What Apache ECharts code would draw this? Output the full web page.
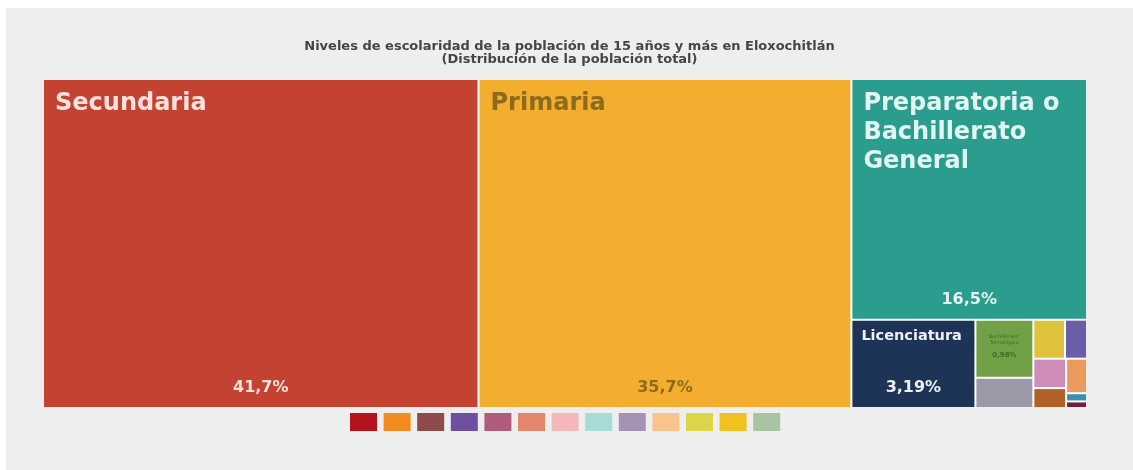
<!DOCTYPE html>
<html>
<head>
<meta charset="utf-8">
<script src="https://cdn.jsdelivr.net/npm/echarts@6/dist/echarts.min.js"></script>
<style>
  html, body { margin: 0; padding: 0; background: #ffffff; }
  #wrap { position: relative; width: 1133px; height: 470px; background: #ffffff; overflow: hidden; }
  #chart { position: absolute; left: 6px; top: 8px; width: 1127px; height: 462px; background: #eeeeee; }
</style>
</head>
<body>
<div id="wrap"><div id="chart"></div></div>
<script>
// ---- data ----
const titleLines = [
  'Niveles de escolaridad de la población de 15 años y más en Eloxochitlán',
  '(Distribución de la población total)'
];
const categories = [
  'Secundaria',
  'Primaria',
  'Preparatoria o Bachillerato General',
  'Licenciatura',
  'Bachillerato Tecnológico',
  'Estudios Técnicos o Comerciales con Secundaria Terminada',
  'Normal de Licenciatura',
  'Maestría',
  'Preescolar',
  'Estudios Técnicos o Comerciales con Preparatoria Terminada',
  'Estudios Técnicos o Comerciales con Primaria Terminada',
  'Especialidad',
  'Doctorado'
];
const shares = [41.7, 35.7, 16.5, 3.19, 0.98, 0.51, 0.36, 0.25, 0.28, 0.19, 0.21, 0.05, 0.04];
const cellColors = ['#c44232', '#f3ad2f', '#2a9d8f', '#1d3457', '#72a047', '#9b98a8', '#e0c33c',
                    '#6b5ea8', '#d08cb8', '#b2602a', '#e99a5c', '#3b8fae', '#6e1f3c'];
const legendColors = ['#b5121b', '#f28a20', '#8f4a4b', '#6f4fa0', '#b05b7c', '#e3876c', '#f5b7b8',
                      '#a5dcd8', '#a493b2', '#f8c38c', '#dcd54a', '#f1c21f', '#a9c4a2'];

// ---- styles ----
const FONT = '"DejaVu Sans", "Noto Sans", sans-serif';
const labelColors = ['#fde2dc', '#8d6b1c', '#e3f5f1', '#eef1f6', '#3f6b25'];
function fmtPct(v) { return String(v).replace('.', ',') + '%'; }

function nameLabel(i) {
  if (i <= 2) {
    return { show: true, position: [6, 4], fontSize: 24, fontWeight: 'bold', lineHeight: 29,
             color: labelColors[i], overflow: 'break', fontFamily: FONT };
  }
  if (i === 3) {
    return { show: true, position: [4, 3], fontSize: 14.5, fontWeight: 'bold', lineHeight: 16,
             color: labelColors[3], fontFamily: FONT };
  }
  if (i === 4) {
    return { show: true, position: ['50%', 8], align: 'center', fontSize: 5, lineHeight: 6,
             color: labelColors[4], overflow: 'break', fontFamily: FONT };
  }
  return { show: false };
}
function valueLabel(i) {
  if (i <= 3) {
    return { show: true, position: 'insideBottom', distance: 6, fontSize: 16, fontWeight: 'bold',
             color: labelColors[i], fontFamily: FONT, formatter: p => fmtPct(p.value) };
  }
  if (i === 4) {
    return { show: true, position: 'inside', offset: [0, 6], fontSize: 7, fontWeight: 'bold',
             color: labelColors[4], fontFamily: FONT, formatter: p => fmtPct(p.value) };
  }
  return { show: false };
}

const nameData = categories.map((c, i) => ({
  name: c, value: shares[i],
  itemStyle: { color: cellColors[i], borderWidth: 0 },
  label: nameLabel(i)
}));
const valueData = categories.map((c, i) => ({
  name: c, value: shares[i],
  itemStyle: { color: 'rgba(0,0,0,0)', borderWidth: 0 },
  label: valueLabel(i)
}));

const area = { left: 38, top: 72, width: 1042, height: 327 };
function treemapSeries(data, isBase) {
  return Object.assign({
    type: 'treemap',
    roam: false,
    nodeClick: false,
    sort: false,
    breadcrumb: { show: false },
    animation: false,
    silent: !isBase,
    levels: [
      { itemStyle: { borderWidth: 0, gapWidth: 2, borderColor: isBase ? '#ffffff' : 'rgba(0,0,0,0)' } },
      { itemStyle: { borderWidth: 0, gapWidth: 0 } }
    ],
    emphasis: { disabled: true },
    data: data
  }, area);
}

const chart = echarts.init(document.getElementById('chart'), null, { renderer: 'canvas' });
chart.setOption({
  backgroundColor: 'transparent',
  animation: false,
  title: {
    text: titleLines.join('\n'),
    left: 'center',
    top: 27,
    textStyle: { fontSize: 13, fontWeight: 'bold', color: '#454545', lineHeight: 13, fontFamily: FONT }
  },
  tooltip: { show: false },
  legend: {
    left: 339,
    top: 400,
    icon: 'rect',
    itemWidth: 27,
    itemHeight: 18,
    itemGap: 6.6,
    selectedMode: false,
    formatter: () => '',
    data: categories
  },
  series: [
    treemapSeries(nameData, true),
    treemapSeries(valueData, false),
    {
      type: 'pie',
      radius: [0, 0],
      center: [-50, -50],
      silent: true,
      label: { show: false },
      labelLine: { show: false },
      data: categories.map((c, i) => ({ name: c, value: shares[i], itemStyle: { color: legendColors[i] } }))
    }
  ]
});
</script>
</body>
</html>
